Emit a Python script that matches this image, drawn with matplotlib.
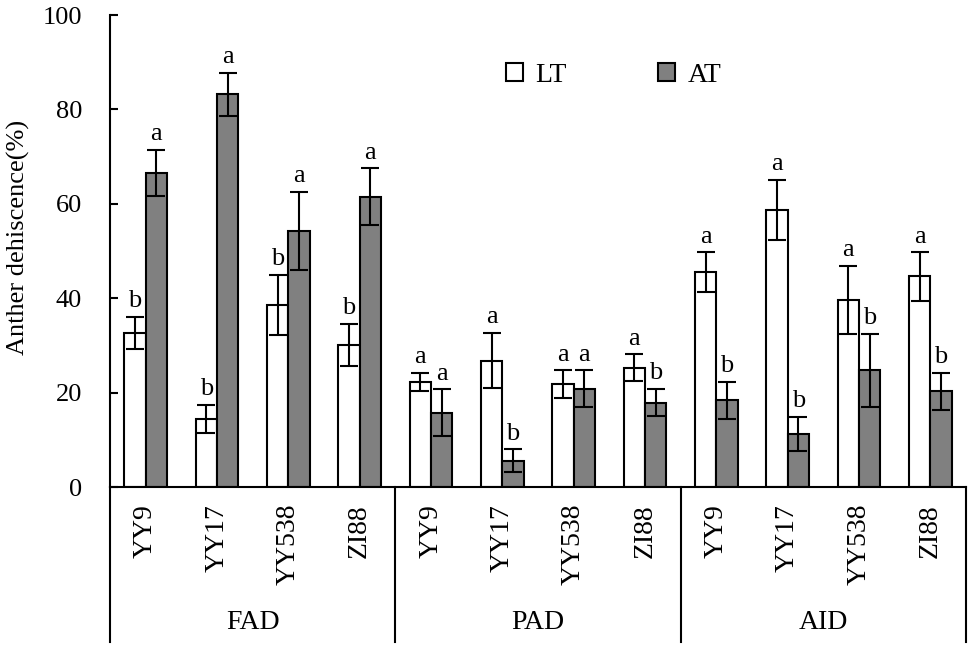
import numpy as np
import matplotlib
matplotlib.use('Agg')
from matplotlib import pyplot as plt
from matplotlib import transforms

plt.rcParams['font.family'] = ['Liberation Serif', 'DejaVu Serif']

groups = ['FAD', 'PAD', 'AID']
cultivars = ['YY9', 'YY17', 'YY538', 'ZI88']

lt_mean = [32.6, 14.4, 38.6, 30.1, 22.3, 26.8, 21.8, 25.3, 45.5, 58.7, 39.6, 44.6]
lt_err = [3.4, 3.0, 6.4, 4.4, 1.9, 5.8, 2.9, 2.8, 4.2, 6.3, 7.2, 5.1]
at_mean = [66.5, 83.2, 54.3, 61.5, 15.7, 5.6, 20.8, 17.9, 18.4, 11.2, 24.7, 20.3]
at_err = [4.9, 4.6, 8.3, 6.0, 5.0, 2.4, 3.9, 2.9, 3.9, 3.6, 7.8, 3.9]
lt_sig = ['b', 'b', 'b', 'b', 'a', 'a', 'a', 'a', 'a', 'a', 'a', 'a']
at_sig = ['a', 'a', 'a', 'a', 'a', 'b', 'a', 'b', 'b', 'b', 'b', 'b']

fig = plt.figure(figsize=(9.7, 6.48), dpi=100)
ax = fig.add_axes([110/970, 1-487/648, 856/970, 472/648])

x = np.arange(len(lt_mean))
w = 0.3
ekw = dict(ecolor='black', elinewidth=1.5, capsize=6.8, capthick=1.5)
ax.bar(x - w/2, lt_mean, w, yerr=lt_err, color='white', edgecolor='black',
       linewidth=1.5, error_kw=ekw, label='LT')
ax.bar(x + w/2, at_mean, w, yerr=at_err, color='#808080', edgecolor='black',
       linewidth=1.5, error_kw=ekw, label='AT')

# significance letters
for i in range(len(x)):
    ax.annotate(lt_sig[i], (x[i] - w/2, lt_mean[i] + lt_err[i]), xytext=(0, 7),
                textcoords='offset points', ha='center', va='baseline', fontsize=19)
    ax.annotate(at_sig[i], (x[i] + w/2, at_mean[i] + at_err[i]), xytext=(0, 7),
                textcoords='offset points', ha='center', va='baseline', fontsize=19)

ax.set_xlim(-0.5, len(x) - 0.5)
ax.set_ylim(0, 100)
ax.set_yticks([0, 20, 40, 60, 80, 100])
ax.tick_params(axis='y', direction='in', length=6, width=1.5, labelsize=19, pad=20)
ax.set_xticks([])
for s in ['top', 'right']:
    ax.spines[s].set_visible(False)
for s in ['left', 'bottom']:
    ax.spines[s].set_linewidth(1.5)

# category labels below axis
trans = transforms.blended_transform_factory(ax.transData, ax.transAxes)
for i in range(len(x)):
    ax.text(x[i], -0.036, cultivars[i % 4], rotation=90, ha='center', va='top',
            fontsize=20, transform=trans)
for g, name in enumerate(groups):
    ax.text(g*4 + 1.5, -0.288, name, ha='center', va='center', fontsize=20,
            transform=trans)
for xs in [-0.5, 3.5, 7.5, 11.5]:
    ax.plot([xs, xs], [0, -0.328], color='black', lw=1.5, transform=trans,
            clip_on=False)

fig.text(18/970, 1-237/648, 'Anther dehiscence(%)', rotation=90, ha='center',
         va='center', fontsize=19)

ax.legend(loc='center left', bbox_to_anchor=(506/970, 1-75/648),
          bbox_transform=fig.transFigure, ncol=2, frameon=False, fontsize=20,
          handlelength=0.6, handleheight=0.6, handletextpad=0.45,
          columnspacing=3.3, borderpad=0, borderaxespad=0)

fig.savefig('out.png', dpi=100)
